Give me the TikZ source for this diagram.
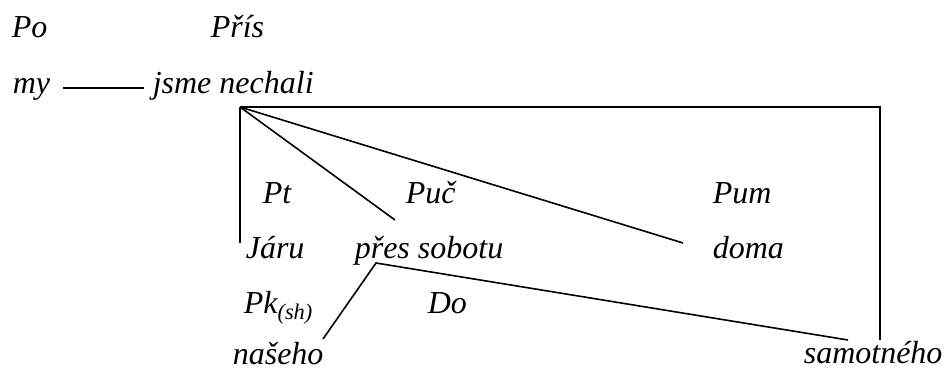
\documentclass[tikz,border=0pt]{standalone}
\usepackage{fontspec}
\setmainfont{Liberation Serif}[ItalicFont={Liberation Serif Italic}]
\usetikzlibrary{positioning}

\begin{document}
\begin{tikzpicture}[x=1pt,y=-1pt,line width=1.6pt]
  \tikzstyle{word}=[anchor=base west,inner sep=0pt,font=\fontsize{32}{40}\selectfont\itshape]
  \tikzstyle{link}=[draw,line width=1.6pt]
  \useasboundingbox (0,0) rectangle (945,369);
  \begin{scope}
  % top rows
  \node[word] (po) at (11,38) {Po};
  \node[word] (pris) at (210,38) {Přís};
  \node[word] (my) at (12,93) {my};
  \node[word] (jsme) at (152,93) {jsme nechali};
  % labels
  \node[word] (pt) at (262,203) {Pt};
  \node[word] (puc) at (405,203) {Puč};
  \node[word] (pum) at (712,203) {Pum};
  \node[word] (pk) at (243,313) {Pk\textsubscript{(sh)}};
  \node[word] (do) at (427,313) {Do};
  % words
  \node[word] (jaru) at (245,258) {Járu};
  \node[word] (pres) at (354,258) {přes sobotu};
  \node[word] (doma) at (712,258) {doma};
  \node[word] (naseho) at (232,364) {našeho};
  \node[word] (samot) at (803,363) {samotného};
  % line ends
  \coordinate (root) at (240,107);
  \coordinate (corner) at (880,107);
  \coordinate (jaru-end) at (240,243);
  \coordinate (pres-end) at (395,220);
  \coordinate (doma-end) at (683,243);
  \coordinate (samot-end) at (880,340);
  \coordinate (pres-root) at (376,263);
  \coordinate (naseho-end) at (323,339);
  \coordinate (samot-end2) at (848,340);
  \end{scope}
  \draw ([shift={(12,-5)}]my.base east) -- ([shift={(-8,-5)}]jsme.base west);
  \path (root) edge [link] (jaru-end)
               edge [link] (pres-end)
               edge [link] (doma-end);
  \draw (root) -- (corner) -- (samot-end);
  \draw (naseho-end) -- (pres-root) -- (samot-end2);
\end{tikzpicture}
\end{document}
